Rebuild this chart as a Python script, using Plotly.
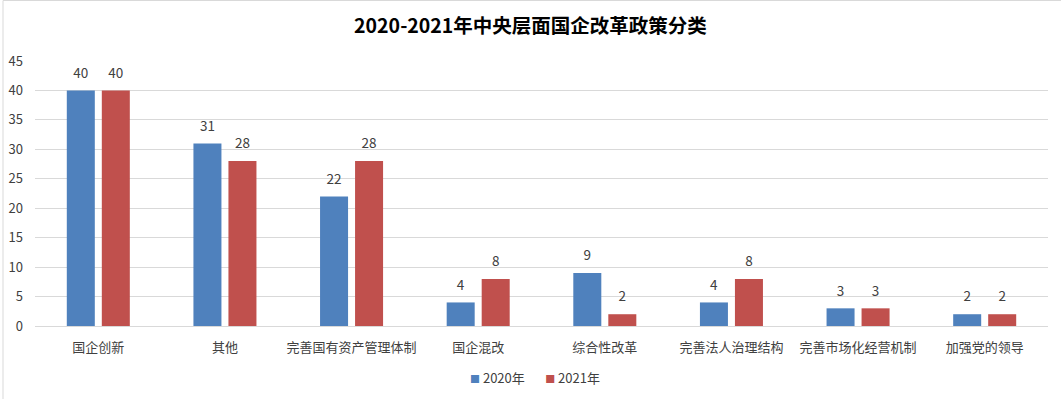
import plotly.graph_objects as go

categories = ["国企创新", "其他", "完善国有资产管理体制", "国企混改", "综合性改革",
              "完善法人治理结构", "完善市场化经营机制", "加强党的领导"]
values_2020 = [40, 31, 22, 4, 9, 4, 3, 2]
values_2021 = [40, 28, 28, 8, 2, 8, 3, 2]
series_names = ["2020年", "2021年"]
series_colors = ["#4F81BD", "#C0504D"]
y_ticks = [0, 5, 10, 15, 20, 25, 30, 35, 40, 45]

FONT = "Noto Sans CJK SC, Microsoft YaHei, sans-serif"
W, H = 1061, 399
ML, MR, MT, MB = 35, 13, 61, 73

fig = go.Figure()
for name, vals, color in zip(series_names, [values_2020, values_2021], series_colors):
    fig.add_trace(go.Bar(
        x=categories, y=vals, name=name,
        marker=dict(color=color, line=dict(width=0)),
        text=[f"<span style='font-size:13.5px'>{v}</span><br> " for v in vals],
        textposition="outside", constraintext="none",
        textfont=dict(family=FONT, size=6, color="#404040"),
        cliponaxis=False, showlegend=False,
    ))

pw = W - ML - MR
ph = H - MT - MB
fig.add_shape(type="rect", xref="paper", yref="paper",
              x0=(3 - ML) / pw, x1=(W + 10 - ML) / pw,
              y0=-(MB + 10) / ph, y1=1 + (MT - 0.5) / ph,
              line=dict(color="#D9D9D9", width=1), layer="below")

legend_text = "       ".join(
    f"<span style='color:{c};font-size:10px'>■</span> {n}"
    for n, c in zip(series_names, series_colors))
fig.add_annotation(text=legend_text, xref="paper", yref="paper",
                   x=(535 - ML) / pw, y=-(377 - MT - ph) / ph,
                   xanchor="center", yanchor="middle", showarrow=False,
                   font=dict(family=FONT, size=13, color="#404040"))

fig.update_layout(
    width=W, height=H,
    margin=dict(l=ML, r=MR, t=MT, b=MB, autoexpand=False),
    paper_bgcolor="white", plot_bgcolor="white",
    barmode="group", bargap=0.447, bargroupgap=0.2,
    title=dict(text="<b>2020-2021年中央层面国企改革政策分类</b>",
               x=0.5, xref="container", xanchor="center",
               y=1 - 26 / H, yanchor="middle",
               font=dict(family=FONT, size=19.5, color="#000000")),
    font=dict(family=FONT, size=13, color="#404040"),
    showlegend=False,
)
fig.update_yaxes(range=[0, 45], tickvals=y_ticks, showgrid=True,
                 gridcolor="#D9D9D9", gridwidth=1, zeroline=False,
                 showline=False, ticks="", ticklabelstandoff=11,
                 tickfont=dict(family=FONT, size=13, color="#404040"))
fig.update_xaxes(showline=True, linecolor="#D9D9D9", linewidth=1, ticks="",
                 tickfont=dict(family=FONT, size=13, color="#404040"),
                 ticklabelstandoff=9)

fig.write_html("out.html", config={"displayModeBar": False},
               post_script="document.body.style.margin='0';"
                           "document.body.style.overflow='hidden';")
